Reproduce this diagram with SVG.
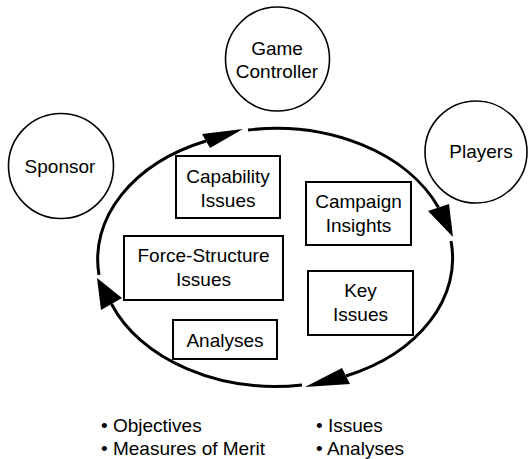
<svg xmlns="http://www.w3.org/2000/svg" width="528" height="459" viewBox="0 0 528 459">
<style>
.n{fill:#fff;stroke:#000;stroke-width:1.6}
.b{fill:#fff;stroke:#000;stroke-width:2}
.t{font-family:"Liberation Sans",Arial,sans-serif;font-size:19px;fill:#000;text-anchor:middle}
.l{font-family:"Liberation Sans",Arial,sans-serif;font-size:19px;fill:#000}
.arc{fill:none;stroke:#000;stroke-width:3}
.ah{fill:#000;stroke:none}
</style>
<rect width="528" height="459" fill="#fff"/>
<g id="connectors">
<path class="arc" d="M248,130 A176,128 0 0 1 438.5,207.5"/>
<path class="arc" d="M451,241 A176,128 0 0 1 346,376"/>
<path class="arc" d="M302,385 A176,128 0 0 1 111.5,304"/>
<path class="arc" d="M99,275 A176,128 0 0 1 206,141"/>
<polygon class="ah" points="243,129 202,134 210,148"/>
<polygon class="ah" points="453,237 428,211 449,204"/>
<polygon class="ah" points="305,387 342,368 350,384"/>
<polygon class="ah" points="97,278 101,310 122,298"/>
</g>
<g id="game-controller">
<circle class="n" cx="277.5" cy="59" r="52"/>
<text class="t" x="277" y="55">Game</text>
<text class="t" x="277" y="78">Controller</text>
</g>
<g id="sponsor">
<circle class="n" cx="61" cy="166" r="52.5"/>
<text class="t" x="60" y="173">Sponsor</text>
</g>
<g id="players">
<circle class="n" cx="476" cy="152" r="51"/>
<text class="t" x="481" y="158">Players</text>
</g>
<g id="capability-issues">
<rect class="b" x="176" y="156" width="104" height="62"/>
<text class="t" x="228" y="183">Capability</text>
<text class="t" x="228" y="207">Issues</text>
</g>
<g id="campaign-insights">
<rect class="b" x="306" y="182" width="105" height="63"/>
<text class="t" x="358.5" y="208">Campaign</text>
<text class="t" x="358.5" y="231.5">Insights</text>
</g>
<g id="force-structure-issues">
<rect class="b" x="124" y="236" width="159" height="64"/>
<text class="t" x="203.5" y="262">Force-Structure</text>
<text class="t" x="203.5" y="285.5">Issues</text>
</g>
<g id="key-issues">
<rect class="b" x="308" y="271" width="105" height="64"/>
<text class="t" x="360.5" y="297">Key</text>
<text class="t" x="360.5" y="320.5">Issues</text>
</g>
<g id="analyses">
<rect class="b" x="173" y="320" width="104" height="39"/>
<text class="t" x="225" y="346.5">Analyses</text>
</g>
<g id="bullets">
<text class="l" x="101" y="432">• Objectives</text>
<text class="l" x="101" y="455">• Measures of Merit</text>
<text class="l" x="316" y="432">• Issues</text>
<text class="l" x="316" y="455">• Analyses</text>
</g>
</svg>
